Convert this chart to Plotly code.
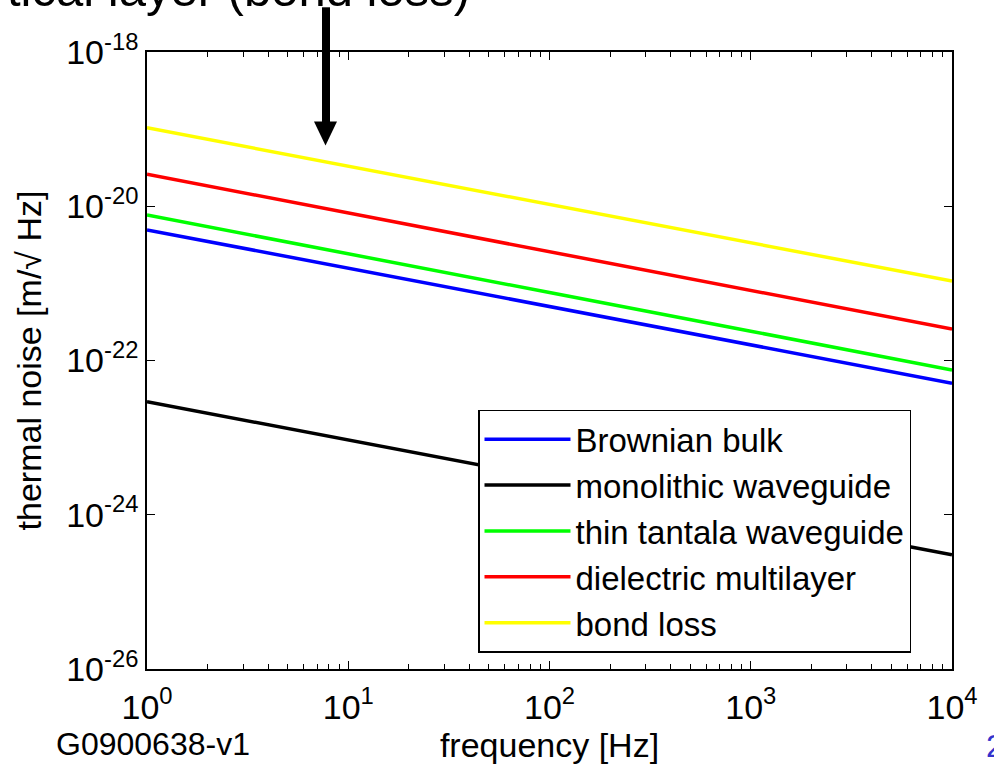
import plotly.graph_objects as go

# ---------------- data ----------------
freq = [1, 10, 100, 1000, 10000]
brownian_bulk = [4.94e-21, 1.58e-21, 5.0e-22, 1.6e-22, 5.08e-23]
monolithic_waveguide = [2.92e-23, 9.3e-24, 2.95e-24, 9.5e-25, 3.03e-25]
thin_tantala_waveguide = [7.7e-21, 2.4e-21, 7.6e-22, 2.4e-22, 7.5e-23]
dielectric_multilayer = [2.6e-20, 8.2e-21, 2.6e-21, 8.1e-22, 2.55e-22]
bond_loss = [1.04e-19, 3.3e-20, 1.05e-20, 3.3e-21, 1.07e-21]

series_names = ["Brownian bulk", "monolithic waveguide", "thin tantala waveguide",
                "dielectric multilayer", "bond loss"]
series_values = [brownian_bulk, monolithic_waveguide, thin_tantala_waveguide,
                 dielectric_multilayer, bond_loss]
series_colors = ["#0000ff", "#000000", "#00ff00", "#ff0000", "#ffff00"]

x_tickvals = [1, 10, 100, 1000, 10000]
x_ticktext = ["10<sup>0</sup>", "10<sup>1</sup>", "10<sup>2</sup>", "10<sup>3</sup>", "10<sup>4</sup>"]
x_minorvals = [m * d for d in [1, 10, 100, 1000] for m in range(2, 10)]
y_tickvals = [1e-26, 1e-24, 1e-22, 1e-20, 1e-18]
y_ticktext = ["10<sup>-26</sup>", "10<sup>-24</sup>", "10<sup>-22</sup>", "10<sup>-20</sup>", "10<sup>-18</sup>"]

# ---------------- layout geometry (pixels) ----------------
W, H = 994, 767
PX0, PX1, PY0, PY1 = 147, 952, 52, 673  # plot area


def px(xp):
    return (xp - PX0) / (PX1 - PX0)


def py(yp):
    return (PY1 - yp) / (PY1 - PY0)


FONT = "Arial, Liberation Sans, sans-serif"

fig = go.Figure()
for name, vals, col in zip(series_names, series_values, series_colors):
    fig.add_trace(go.Scatter(x=freq, y=vals, mode="lines", name=name,
                             line=dict(color=col, width=3.5)))

fig.update_layout(
    width=W, height=H, autosize=False,
    margin=dict(l=PX0, r=W - PX1, t=PY0, b=H - PY1, pad=0),
    paper_bgcolor="white", plot_bgcolor="white",
    font=dict(family=FONT, color="black"),
    showlegend=True,
    legend=dict(x=px(478), y=py(412), xanchor="left", yanchor="top",
                bgcolor="white", bordercolor="black", borderwidth=1.5,
                font=dict(size=33, family=FONT, color="black"),
                itemwidth=86, tracegroupgap=0),
)

fig.update_xaxes(
    type="log", range=[0, 4],
    tickmode="array", tickvals=x_tickvals, ticktext=x_ticktext,
    ticks="inside", ticklen=8, tickwidth=1, tickcolor="black",
    showline=True, linecolor="black", linewidth=1.5, mirror="ticks",
    showgrid=False, zeroline=False, ticklabelstandoff=7,
    tickfont=dict(size=34, family=FONT, color="black"),
    minor=dict(tickmode="array", tickvals=x_minorvals, ticks="inside", ticklen=5,
               tickwidth=1, tickcolor="black", showgrid=False),
    title=dict(text="frequency [Hz]", font=dict(size=34, family=FONT, color="black"), standoff=6),
)
fig.update_yaxes(
    type="log", range=[-26, -18],
    tickmode="array", tickvals=y_tickvals, ticktext=y_ticktext,
    ticks="inside", ticklen=8, tickwidth=1, tickcolor="black",
    showline=True, linecolor="black", linewidth=1.5, mirror="ticks",
    showgrid=False, zeroline=False,
    tickfont=dict(size=34, family=FONT, color="black"),
    title=dict(text="thermal noise [m/\u221a Hz]", font=dict(size=34, family=FONT, color="black"), standoff=14),
)

# annotations
fig.add_annotation(text="G0900638-v1", xref="paper", yref="paper",
                   x=px(153), y=py(748), xanchor="center", yanchor="middle",
                   showarrow=False, font=dict(size=32, family=FONT, color="black"))
fig.add_annotation(text="2", xref="paper", yref="paper",
                   x=px(984), y=py(750), xanchor="left", yanchor="middle",
                   showarrow=False, font=dict(size=32, family=FONT, color="#3333cc"))
fig.add_annotation(text="tical layer (bond loss)", xref="paper", yref="paper",
                   x=px(472), y=py(-11), xanchor="right", yanchor="middle",
                   showarrow=False, font=dict(size=49, family=FONT, color="black"))

# arrow (shaft + head)
fig.add_shape(type="rect", xref="paper", yref="paper",
              x0=px(322), x1=px(330), y0=py(7), y1=py(124),
              fillcolor="black", line=dict(width=0))
fig.add_shape(type="path", xref="paper", yref="paper",
              path=f"M {px(314)} {py(122)} L {px(337)} {py(122)} L {px(325.5)} {py(146)} Z",
              fillcolor="black", line=dict(width=0))

fig.write_html("out.html")
